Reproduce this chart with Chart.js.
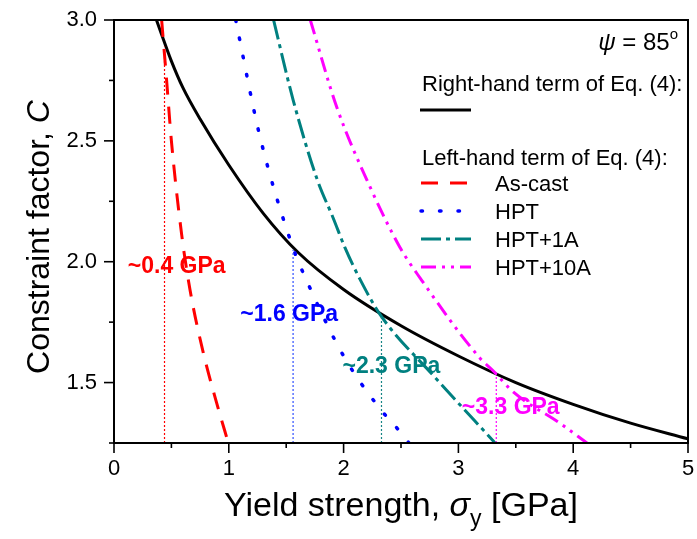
<!DOCTYPE html>
<html>
<head>
<meta charset="utf-8">
<script src="https://cdn.jsdelivr.net/npm/chart.js@4.4.1/dist/chart.umd.min.js"></script>
<style>
  html, body { margin: 0; padding: 0; background: #fff; }
  #wrap { width: 697px; height: 539px; position: relative; }
</style>
</head>
<body>
<div id="wrap"><canvas id="chart"></canvas></div>
<script>
// right-hand term of Eq. (4)
const rhsX = [0.37, 0.40, 0.50, 0.60, 0.75, 1.00, 1.30, 1.60, 2.00, 2.50, 3.00, 3.50, 4.00, 4.50, 5.00];
const rhsY = [3.00, 2.96, 2.83, 2.72, 2.59, 2.40, 2.20, 2.04, 1.885, 1.735, 1.61, 1.50, 1.41, 1.332, 1.267];

// left-hand term, one per state
const castX = [0.415, 0.46, 0.50, 0.59, 0.662, 0.778, 0.894, 0.996];
const castY = [3.00, 2.74, 2.50, 2.11, 1.884, 1.623, 1.416, 1.25];
const hptX = [1.06, 1.27, 1.55, 1.68, 2.00, 2.32, 2.45, 2.57];
const hptY = [3.00, 2.52, 2.07, 1.92, 1.61, 1.39, 1.32, 1.25];
const hpt1X = [1.39, 1.56, 1.77, 1.91, 2.01, 2.14, 2.32, 2.78, 3.32];
const hpt1Y = [3.00, 2.67, 2.34, 2.18, 2.06, 1.93, 1.78, 1.53, 1.25];
const hpt10X = [1.71, 1.94, 2.23, 2.49, 2.67, 3.19, 3.30, 3.48, 3.89, 4.12];
const hpt10Y = [3.00, 2.64, 2.31, 2.06, 1.93, 1.60, 1.55, 1.46, 1.33, 1.25];

// crossing points (dotted drop lines) and their labels
const markX = [0.44, 1.56, 2.33, 3.33];
const markTop = [2.89, 2.05, 1.78, 1.545];
const markLabels = ['~0.4 GPa', '~1.6 GPa', '~2.3 GPa', '~3.3 GPa'];
// label anchor (left edge, vertical middle) in data units
const labelX = [0.12, 1.10, 1.99, 3.03];
const labelY = [1.98, 1.78, 1.566, 1.397];

const xTicks = [0, 1, 2, 3, 4, 5];
const xMinor = [0.5, 1.5, 2.5, 3.5, 4.5];
const yTicks = [1.5, 2.0, 2.5, 3.0];
const yMinor = [1.25, 1.75, 2.25, 2.75];

const FONT = '"Liberation Sans", Arial, sans-serif';
Chart.defaults.font.family = FONT;
Chart.defaults.color = '#000';

const pts = (xs, ys) => xs.map((x, i) => ({ x: x, y: ys[i] }));

const series = [
  { label: 'As-cast', x: castX, y: castY, color: '#ff0000', dash: [17, 12], cap: 'butt', w: 3 },
  { label: 'HPT', x: hptX, y: hptY, color: '#0000ff', dash: [1.5, 17], cap: 'round', w: 3.5 },
  { label: 'HPT+1A', x: hpt1X, y: hpt1Y, color: '#008080', dash: [20, 5, 4, 5], cap: 'butt', w: 3 },
  { label: 'HPT+10A', x: hpt10X, y: hpt10Y, color: '#ff00ff', dash: [15, 6, 3, 6, 3, 6], cap: 'butt', w: 3 },
];
const markColors = ['#ff0000', '#3050ff', '#178585', '#ff00ff'];

const datasets = [];
markX.forEach((x, i) => {
  datasets.push({
    data: [{ x: x, y: 1.25 }, { x: x, y: markTop[i] }],
    borderColor: markColors[i],
    borderWidth: 1.2,
    borderDash: [2, 2],
    pointRadius: 0,
    showLine: true,
  });
});
series.forEach(s => {
  datasets.push({
    label: s.label,
    data: pts(s.x, s.y),
    borderColor: s.color,
    borderWidth: s.w,
    borderDash: s.dash,
    borderCapStyle: s.cap,
    pointRadius: 0,
    showLine: true,
    cubicInterpolationMode: 'monotone',
  });
});
datasets.push({
  label: 'rhs',
  data: pts(rhsX, rhsY),
  borderColor: '#000',
  borderWidth: 3,
  pointRadius: 0,
  showLine: true,
  cubicInterpolationMode: 'monotone',
});

function line(ctx, x1, y1, x2, y2) {
  ctx.beginPath();
  ctx.moveTo(x1, y1);
  ctx.lineTo(x2, y2);
  ctx.stroke();
}

// draws pieces [text, font, dy] one after the other, returns width
function pieces(ctx, parts, x, y, measureOnly) {
  let w = 0;
  parts.forEach(p => {
    ctx.font = p[1];
    if (!measureOnly) ctx.fillText(p[0], x + w, y + (p[2] || 0));
    w += ctx.measureText(p[0]).width;
  });
  return w;
}

const decor = {
  id: 'decor',
  afterDatasetsDraw(chart) {
    const ctx = chart.ctx;
    const xs = chart.scales.x, ys = chart.scales.y;
    ctx.save();
    ctx.font = 'bold 23px ' + FONT;
    ctx.textBaseline = 'middle';
    ctx.textAlign = 'left';
    markLabels.forEach((t, i) => {
      ctx.fillStyle = series[i].color;
      ctx.fillText(t, xs.getPixelForValue(labelX[i]), ys.getPixelForValue(labelY[i]));
    });
    ctx.restore();
  },
  afterDraw(chart) {
    const ctx = chart.ctx;
    const a = chart.chartArea;
    const xs = chart.scales.x, ys = chart.scales.y;
    ctx.save();
    ctx.strokeStyle = '#000';
    ctx.fillStyle = '#000';
    ctx.setLineDash([]);

    // frame
    ctx.lineWidth = 2;
    ctx.strokeRect(a.left, a.top, a.right - a.left, a.bottom - a.top);

    // ticks (outward)
    ctx.lineWidth = 1.6;
    xTicks.forEach(v => { const p = xs.getPixelForValue(v); line(ctx, p, a.bottom, p, a.bottom + 10); });
    xMinor.forEach(v => { const p = xs.getPixelForValue(v); line(ctx, p, a.bottom, p, a.bottom + 5); });
    yTicks.forEach(v => { const p = ys.getPixelForValue(v); line(ctx, a.left, p, a.left - 10, p); });
    yMinor.forEach(v => { const p = ys.getPixelForValue(v); line(ctx, a.left, p, a.left - 5, p); });

    // x title
    ctx.textBaseline = 'alphabetic';
    ctx.textAlign = 'left';
    const xt = [
      ['Yield strength, ', '34px ' + FONT],
      ['\u03C3', 'italic 34px ' + FONT],
      ['y', '23px ' + FONT, 10],
      [' [GPa]', '34px ' + FONT],
    ];
    const xw = pieces(ctx, xt, 0, 0, true);
    pieces(ctx, xt, (a.left + a.right) / 2 - xw / 2, 516);

    // y title
    const yt = [
      ['Constraint factor, ', '32px ' + FONT],
      ['C', 'italic 32px ' + FONT],
    ];
    ctx.save();
    ctx.translate(49, 237);
    ctx.rotate(-Math.PI / 2);
    const yw = pieces(ctx, yt, 0, 0, true);
    pieces(ctx, yt, -yw / 2, 0);
    ctx.restore();

    // legend block
    const psi = [
      ['\u03C8', 'italic 24px ' + FONT],
      [' = 85', '24px ' + FONT],
      ['o', '15px ' + FONT, -11],
    ];
    const pw = pieces(ctx, psi, 0, 0, true);
    pieces(ctx, psi, 678 - pw, 50);

    ctx.font = '22px ' + FONT;
    ctx.fillText('Right-hand term of Eq. (4):', 422, 91);
    ctx.lineWidth = 3;
    line(ctx, 420, 110, 471, 110);
    ctx.fillText('Left-hand term of Eq. (4):', 422, 165);

    const rowY = [183, 211, 239, 267];
    series.forEach((s, i) => {
      ctx.strokeStyle = s.color;
      ctx.lineWidth = s.w;
      ctx.lineCap = s.cap;
      ctx.setLineDash(s.dash);
      line(ctx, 421, rowY[i], 471, rowY[i]);
      ctx.setLineDash([]);
      ctx.lineCap = 'butt';
      ctx.fillStyle = '#000';
      ctx.fillText(s.label, 495, rowY[i] + 8);
    });
    ctx.restore();
  }
};

new Chart(document.getElementById('chart'), {
  type: 'scatter',
  data: { datasets: datasets },
  options: {
    responsive: true,
    maintainAspectRatio: false,
    animation: false,
    events: [],
    layout: { padding: { top: 20, right: 9, left: 0, bottom: 0 } },
    plugins: {
      legend: { display: false },
      tooltip: { enabled: false },
    },
    scales: {
      x: {
        type: 'linear',
        min: 0,
        max: 5,
        afterBuildTicks: s => { s.ticks = xTicks.map(v => ({ value: v })); },
        afterFit: s => { s.height = 96; s.paddingLeft = 0; s.paddingRight = 0; },
        grid: { display: false, drawTicks: false },
        border: { display: false },
        ticks: { font: { size: 22 }, color: '#000', padding: 13, maxRotation: 0, callback: v => String(v) },
      },
      y: {
        type: 'linear',
        min: 1.25,
        max: 3.0,
        afterBuildTicks: s => { s.ticks = yTicks.map(v => ({ value: v })); },
        afterFit: s => { s.width = 114; s.paddingTop = 0; s.paddingBottom = 0; },
        grid: { display: false, drawTicks: false },
        border: { display: false },
        ticks: { font: { size: 22 }, color: '#000', padding: 17, callback: v => v.toFixed(1) },
      },
    },
  },
  plugins: [decor],
});
</script>
</body>
</html>
